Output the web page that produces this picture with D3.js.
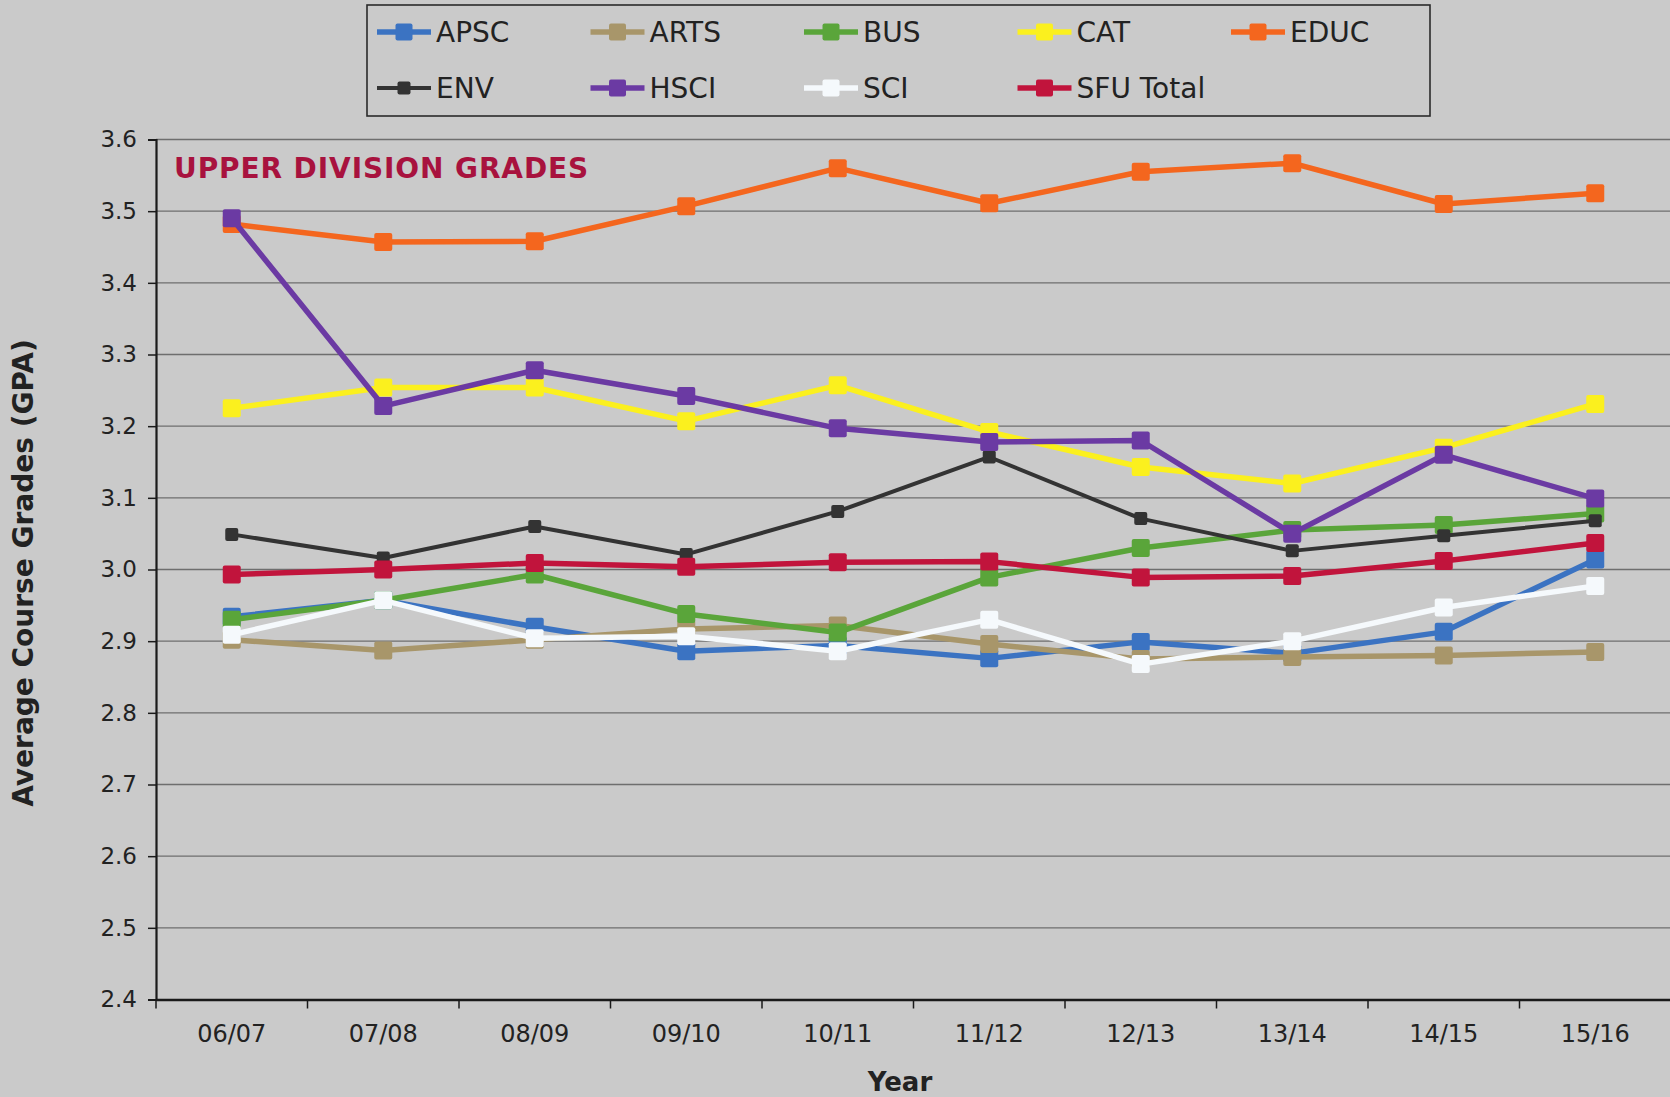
<!DOCTYPE html>
<html>
<head>
<meta charset="utf-8">
<script src="https://cdn.jsdelivr.net/npm/d3@7"></script>
<style>
  html, body { margin: 0; padding: 0; background: #cacaca; }
  svg { display: block; }
  text { font-family: "DejaVu Sans", Verdana, sans-serif; fill: #222; }
</style>
</head>
<body>
<svg id="chart" width="1670" height="1097"></svg>
<script>
// ---- data ----
const years = ["06/07","07/08","08/09","09/10","10/11","11/12","12/13","13/14","14/15","15/16"];
const yTicks = [2.4,2.5,2.6,2.7,2.8,2.9,3.0,3.1,3.2,3.3,3.4,3.5,3.6];
const seriesNames = ["APSC","ARTS","BUS","CAT","EDUC","ENV","HSCI","SCI","SFU Total"];
const APSC  = [2.934,2.957,2.920,2.886,2.894,2.876,2.899,2.883,2.913,3.014];
const ARTS  = [2.902,2.887,2.902,2.917,2.922,2.896,2.875,2.878,2.880,2.885];
const BUS   = [2.930,2.957,2.993,2.938,2.912,2.989,3.030,3.055,3.062,3.078];
const CAT   = [3.225,3.254,3.254,3.207,3.257,3.192,3.143,3.120,3.170,3.231];
const EDUC  = [3.482,3.457,3.458,3.507,3.560,3.511,3.555,3.567,3.510,3.525];
const ENV   = [3.049,3.016,3.060,3.021,3.081,3.157,3.071,3.026,3.047,3.068];
const HSCI  = [3.490,3.228,3.278,3.242,3.197,3.178,3.180,3.050,3.160,3.099];
const SCI   = [2.909,2.957,2.904,2.907,2.886,2.930,2.868,2.900,2.947,2.977];
const SFU   = [2.993,3.000,3.009,3.004,3.010,3.011,2.989,2.991,3.012,3.037];
const seriesValues = [APSC, ARTS, BUS, CAT, EDUC, ENV, HSCI, SCI, SFU];
const colors = ["#3b73c2","#a8966a","#5aa53a","#fbf01e","#f4661e","#333333","#6b3aa3","#f5f9fc","#c1143c"];

// ---- layout ----
const svg = d3.select("#chart");
const plot = {left: 156, right: 1671, top: 139.5, bottom: 999.5};

svg.append("rect").attr("width",1670).attr("height",1097).attr("fill","#cacaca");

const x = d3.scaleBand().domain(years).range([plot.left, plot.right]).padding(0);
const y = d3.scaleLinear().domain([2.4, 3.6]).range([plot.bottom, plot.top]);

// gridlines
svg.append("g").selectAll("line").data(yTicks.filter(t => t > 2.4)).join("line")
  .attr("x1", plot.left).attr("x2", plot.right)
  .attr("y1", d => y(d)).attr("y2", d => y(d))
  .attr("stroke", "#6e6e6e").attr("stroke-width", 1.4);

// y axis
const yAxis = d3.axisLeft(y).tickValues(yTicks).tickFormat(d3.format(".1f")).tickSize(8).tickPadding(11);
const gy = svg.append("g").attr("transform", `translate(${plot.left},0)`).call(yAxis);
gy.select(".domain").attr("stroke", "#1a1a1a").attr("stroke-width", 2.2);
gy.selectAll(".tick line").attr("stroke", "#1a1a1a").attr("stroke-width", 1.5);
gy.selectAll(".tick text").attr("font-size", 23).attr("font-family", "DejaVu Sans, sans-serif").attr("fill", "#222");

// x axis
const xAxis = d3.axisBottom(x).tickSize(0).tickPadding(25);
const gx = svg.append("g").attr("transform", `translate(0,${plot.bottom})`).call(xAxis);
gx.select(".domain").attr("stroke", "#1a1a1a").attr("stroke-width", 2.6);
gx.selectAll(".tick text").attr("font-size", 24).attr("font-family", "DejaVu Sans, sans-serif").attr("fill", "#222");
// boundary ticks between categories
svg.append("g").selectAll("line").data(years).join("line")
  .attr("x1", d => x(d)).attr("x2", d => x(d))
  .attr("y1", plot.bottom).attr("y2", plot.bottom + 9)
  .attr("stroke", "#1a1a1a").attr("stroke-width", 1.5);

// axis titles
svg.append("text").attr("x", 900).attr("y", 1091).attr("text-anchor", "middle")
  .attr("font-size", 26).attr("font-weight", "bold").text("Year");
svg.append("text").attr("transform", "translate(33,573) rotate(-90)").attr("text-anchor", "middle")
  .attr("font-size", 28).attr("font-weight", "bold").text("Average Course Grades (GPA)");

// chart title
svg.append("text").attr("x", 174).attr("y", 178).attr("font-size", 28).attr("font-weight", "bold")
  .style("fill", "#a8123e").attr("letter-spacing", 0.9).text("UPPER DIVISION GRADES");

// series
const line = d3.line().x((d, i) => x(years[i]) + x.bandwidth() / 2).y(d => y(d));
seriesNames.forEach((name, k) => {
  const vals = seriesValues[k];
  const isEnv = name === "ENV";
  const g = svg.append("g");
  g.append("path").datum(vals).attr("d", line).attr("fill", "none")
    .attr("stroke", colors[k]).attr("stroke-width", isEnv ? 4 : 5.5).attr("stroke-linejoin", "round");
  const s = isEnv ? 13 : 18;
  g.selectAll("rect").data(vals).join("rect")
    .attr("x", (d, i) => x(years[i]) + x.bandwidth() / 2 - s / 2)
    .attr("y", d => y(d) - s / 2)
    .attr("width", s).attr("height", s).attr("rx", 2)
    .attr("fill", colors[k]);
});

// legend
const lg = svg.append("g");
lg.append("rect").attr("x", 367).attr("y", 5).attr("width", 1063).attr("height", 111)
  .attr("fill", "none").attr("stroke", "#2a2a2a").attr("stroke-width", 1.6);
seriesNames.forEach((name, k) => {
  const col = k % 5, row = Math.floor(k / 5);
  const lx = 377 + col * 213.5, ly = row === 0 ? 32 : 88;
  const isEnv = name === "ENV";
  lg.append("line").attr("x1", lx).attr("x2", lx + 54).attr("y1", ly).attr("y2", ly)
    .attr("stroke", colors[k]).attr("stroke-width", isEnv ? 4 : 5.5);
  const s = isEnv ? 13 : 17;
  lg.append("rect").attr("x", lx + 27 - s / 2).attr("y", ly - s / 2).attr("width", s).attr("height", s)
    .attr("rx", 2).attr("fill", colors[k]);
  lg.append("text").attr("x", lx + 59).attr("y", ly).attr("dy", "0.36em")
    .attr("font-size", 28).text(name);
});
</script>
</body>
</html>
